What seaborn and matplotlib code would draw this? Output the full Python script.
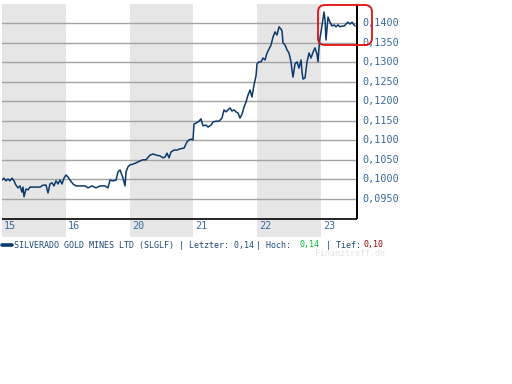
import matplotlib
matplotlib.use("Agg")
import matplotlib.pyplot as plt
import seaborn as sns
import pandas as pd
from matplotlib.patches import FancyBboxPatch
from matplotlib.lines import Line2D
from matplotlib.transforms import IdentityTransform, blended_transform_factory

# ---- data ----
day_labels = ["15", "16", "20", "21", "22", "23"]
t = [0.000, 0.031, 0.063, 0.094, 0.125, 0.157, 0.188, 0.219, 0.251, 0.282, 0.313, 0.329, 0.345, 0.376,
     0.408, 0.439, 0.486, 0.533, 0.596, 0.643, 0.690, 0.721, 0.752, 0.784, 0.815, 0.846, 0.878, 0.909,
     0.940, 0.972, 1.003, 1.034, 1.066, 1.113, 1.160, 1.223, 1.301, 1.348, 1.411, 1.473, 1.536, 1.614,
     1.661, 1.693, 1.740, 1.787, 1.818, 1.850, 1.897, 1.928, 1.944, 1.975, 2.006, 2.053, 2.100, 2.163,
     2.210, 2.257, 2.320, 2.367, 2.414, 2.476, 2.524, 2.555, 2.586, 2.618, 2.649, 2.696, 2.743, 2.790,
     2.853, 2.900, 2.931, 2.962, 2.994, 3.009, 3.041, 3.088, 3.119, 3.150, 3.197, 3.229, 3.276, 3.307,
     3.354, 3.401, 3.448, 3.480, 3.511, 3.542, 3.574, 3.605, 3.636, 3.668, 3.699, 3.730, 3.762, 3.793,
     3.824, 3.856, 3.887, 3.918, 3.950, 3.981, 3.997, 4.028, 4.060, 4.091, 4.122, 4.154, 4.185, 4.216,
     4.248, 4.279, 4.310, 4.342, 4.373, 4.389, 4.404, 4.436, 4.467, 4.498, 4.530, 4.545, 4.561, 4.592,
     4.624, 4.655, 4.687, 4.702, 4.718, 4.749, 4.781, 4.812, 4.843, 4.875, 4.906, 4.937, 4.953, 4.969,
     4.984, 5.000, 5.016, 5.031, 5.047, 5.063, 5.078, 5.094, 5.110, 5.141, 5.172, 5.204, 5.235, 5.266,
     5.298, 5.329, 5.361, 5.392, 5.423, 5.455, 5.486, 5.517, 5.533]
price = [0.0998, 0.1003, 0.0996, 0.1001, 0.0996, 0.1003, 0.0996, 0.0985, 0.0978, 0.0983, 0.0967, 0.0980,
         0.0955, 0.0975, 0.0973, 0.0980, 0.0980, 0.0980, 0.0980, 0.0985, 0.0985, 0.0965, 0.0988, 0.0991,
         0.0983, 0.0996, 0.0988, 0.0998, 0.0988, 0.1003, 0.1011, 0.1006, 0.0998, 0.0988, 0.0983, 0.0983,
         0.0983, 0.0978, 0.0983, 0.0978, 0.0983, 0.0983, 0.0978, 0.0998, 0.0996, 0.0998, 0.1019, 0.1024,
         0.1003, 0.0983, 0.1019, 0.1032, 0.1037, 0.1039, 0.1042, 0.1047, 0.1050, 0.1050, 0.1062, 0.1065,
         0.1062, 0.1060, 0.1055, 0.1057, 0.1067, 0.1055, 0.1070, 0.1075, 0.1075, 0.1078, 0.1080, 0.1096,
         0.1101, 0.1103, 0.1101, 0.1142, 0.1144, 0.1149, 0.1155, 0.1137, 0.1139, 0.1134, 0.1139, 0.1147,
         0.1149, 0.1149, 0.1157, 0.1178, 0.1173, 0.1178, 0.1183, 0.1175, 0.1178, 0.1173, 0.1170, 0.1157,
         0.1167, 0.1185, 0.1198, 0.1216, 0.1229, 0.1211, 0.1242, 0.1265, 0.1296, 0.1301, 0.1301, 0.1311,
         0.1306, 0.1324, 0.1334, 0.1344, 0.1365, 0.1378, 0.1370, 0.1391, 0.1385, 0.1380, 0.1350, 0.1344,
         0.1332, 0.1324, 0.1301, 0.1280, 0.1262, 0.1296, 0.1301, 0.1285, 0.1306, 0.1275, 0.1257, 0.1260,
         0.1301, 0.1324, 0.1311, 0.1326, 0.1337, 0.1321, 0.1301, 0.1339, 0.1362, 0.1378, 0.1396, 0.1414,
         0.1429, 0.1409, 0.1357, 0.1388, 0.1416, 0.1403, 0.1393, 0.1396, 0.1391, 0.1396, 0.1391, 0.1393,
         0.1393, 0.1398, 0.1403, 0.1398, 0.1403, 0.1396, 0.1393]
y_ticks = [0.1400, 0.1350, 0.1300, 0.1250, 0.1200, 0.1150, 0.1100, 0.1050, 0.1000, 0.0950]
y_tick_labels = ["0,1400", "0,1350", "0,1300", "0,1250", "0,1200", "0,1150", "0,1100", "0,1050",
                 "0,1000", "0,0950"]
legend_name = "SILVERADO GOLD MINES LTD (SLGLF)"
letzter = "0,14"
hoch = "0,14"
tief = "0,10"

df = pd.DataFrame({"t": t, "price": price})

# ---- figure ----
sns.set_style("white")
plt.rcParams["font.family"] = ["DejaVu Sans Mono", "DejaVu Sans"]
W, H = 512, 384
fig = plt.figure(figsize=(W / 100, H / 100), dpi=100)
ax = fig.add_axes([2 / W, 1 - 237 / H, 355 / W, 233 / H])

x_max = 5.564
y_bottom, y_top = 0.08520, 0.14495
axis_y = 0.08988
ax.set_xlim(0, x_max)
ax.set_ylim(y_bottom, y_top)

for i in range(len(day_labels)):
    if i % 2 == 0:
        ax.axvspan(i, i + 1, color="#e6e6e6", lw=0, zorder=0)
for v in y_ticks:
    ax.axhline(v, color="#a3a3a3", lw=1.0, zorder=1)

sns.lineplot(data=df, x="t", y="price", ax=ax, color="#0b3a6b", lw=1.1, zorder=3, estimator=None)

ax.axhline(axis_y, color="black", lw=1.2, zorder=4)
ax.vlines(x_max - 0.002, axis_y, y_top, color="black", lw=1.4, zorder=4, clip_on=False)

for s in ax.spines.values():
    s.set_visible(False)
ax.set_xticks([])
ax.set_yticks([])
ax.set_xlabel("")
ax.set_ylabel("")

lab_col = "#3a6a9c"
tb = blended_transform_factory(ax.transData, ax.transData)
for i, lab in enumerate(day_labels):
    ax.text(i + 0.035, 0.08790, lab, color=lab_col, fontsize=7.3, ha="left", va="center")
tr = blended_transform_factory(ax.transAxes, ax.transData)
for v, lab in zip(y_ticks, y_tick_labels):
    ax.text(1.014, v, lab, transform=tr, color=lab_col, fontsize=7.3, ha="left", va="center", clip_on=False)

# highlight box
box = FancyBboxPatch((318, H - 45), 54, 40, boxstyle="round,pad=0,rounding_size=7",
                     transform=IdentityTransform(), fill=False, edgecolor="#e01010", lw=1.3)
fig.patches.append(box)

# legend row
ly = 1 - 245 / H
fig.add_artist(Line2D([2 / W, 12 / W], [ly, ly], color="#0b3a6b", lw=2.6, transform=fig.transFigure))
leg_col = "#1f4a7a"
fs = 6.0
fig.text(14 / W, ly, f"{legend_name} | Letzter: {letzter}", color=leg_col, fontsize=fs, va="center")
fig.text(256 / W, ly, "| Hoch:", color=leg_col, fontsize=fs, va="center")
fig.text(300 / W, ly, hoch, color="#00c030", fontsize=fs, va="center")
fig.text(326 / W, ly, "| Tief:", color=leg_col, fontsize=fs, va="center")
fig.text(364 / W, ly, tief, color="#a00000", fontsize=fs, va="center")
fig.text(315 / W, 1 - 253 / H, "Finanztreff.de", color="#e4e4e4", fontsize=fs, va="center")

fig.savefig("out.png", dpi=100)
